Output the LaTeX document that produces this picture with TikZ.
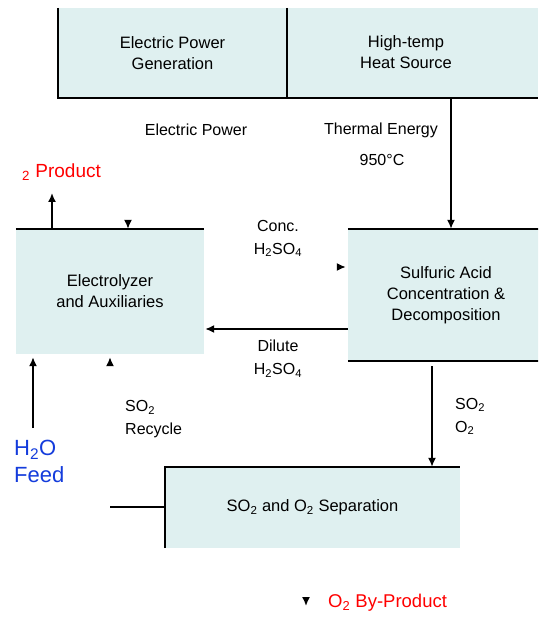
\documentclass[tikz,border=0pt]{standalone}
\usepackage{fontspec}
\setmainfont{Liberation Sans}
\usetikzlibrary{arrows.meta}
\definecolor{boxcyan}{RGB}{223,240,240}
\definecolor{redtxt}{RGB}{255,0,0}
\definecolor{bluetxt}{RGB}{20,60,220}
\begin{document}
\begin{tikzpicture}[x=1pt,y=-1pt,
  boxfill/.style={fill=boxcyan, draw=none, inner sep=0pt, align=center, font=\fontsize{16.5}{21}\selectfont},
  boxtext/.style={inner sep=0pt, align=center, font=\fontsize{16.5}{21}\selectfont},
  lbl/.style={inner sep=0pt, align=center, font=\fontsize{16}{23}\selectfont},
  edge/.style={line width=1.6pt},
  arr/.style={line width=1.6pt, -{Latex[length=9pt,width=8pt]}},
  ghost/.style={draw=white, line width=1.6pt, -{Latex[length=9pt,width=8pt,color=black]}},
]
\fill[white] (0,0) rectangle (538,620);
\clip (0,0) rectangle (538,620);

% boxes
\node[boxfill, minimum width=229, minimum height=90] (gen) at (172.5,53) {Electric Power\\Generation};
\node[boxfill, minimum width=251, minimum height=90] (heat) at (412.5,53) {};
\node[boxtext] (heattxt) at (406,52) {High-temp\\Heat Source};
\node[boxfill, minimum width=188, minimum height=125] (elec) at (110,291.5) {Electrolyzer\\and Auxiliaries};
\node[boxfill, minimum width=196, minimum height=132] (sulf) at (446,295) {Sulfuric Acid\\Concentration \&\\Decomposition};
\node[boxfill, minimum width=295, minimum height=81] (sep) at (312.5,507.5) {SO\textsubscript{2} and O\textsubscript{2} Separation};

% connectors whose lines are not visible (only their tips)
\coordinate (ex) at (128,0);
\draw[ghost] (gen.south -| ex) -- (elec.north -| ex);
\coordinate (cy) at (0,267);
\draw[ghost] (elec.east |- cy) -- ([xshift=-2pt]sulf.west |- cy);
\coordinate (rc) at (110,507);
\draw[ghost] (rc) -- ([yshift=-3pt]elec.south -| rc);
\coordinate (ob) at (306,606);
\draw[ghost] (sep.south -| ob) -- (ob);

% box borders
\draw[edge] (gen.north west) -- (gen.south west) -- (heat.south east);
\draw[edge] (gen.north east) -- (gen.south east);
\draw[edge] (elec.north west) -- (elec.north east);
\draw[edge] (sulf.north west) -- (sulf.north east);
\draw[edge] (sulf.south west) -- (sulf.south east);
\draw[edge] (sep.south west) -- (sep.north west) -- (sep.north east);

% visible connectors
\coordinate (tx) at (451,0);
\draw[arr] (heat.south -| tx) -- (sulf.north -| tx);
\coordinate (h2top) at (52,193);
\draw[arr] (elec.north -| h2top) -- (h2top);
\coordinate (dy) at (0,329);
\draw[arr] (sulf.west |- dy) -- ([xshift=1pt]elec.east |- dy);
\coordinate (sx) at (432,0);
\draw[arr] ([yshift=-5pt]sulf.south -| sx) -- (sep.north -| sx);
\draw[edge] (sep.west |- rc) -- (rc);
\coordinate (wf) at (33,428);
\draw[arr] (wf) -- ([yshift=-3pt]elec.south -| wf);

% labels
\node[lbl] (elp) at (196,130) {Electric Power};
\node[lbl] (te) at (381,130) {Thermal Energy};
\node[lbl] (tc) at (382,160) {950°C};
\node[anchor=west, text=redtxt, font=\fontsize{19}{23}\selectfont, inner sep=0pt] (h2p) at (22,172) {\textsubscript{2} Product};
\node[lbl] (conc) at (278,238.5) {Conc.\\H\textsubscript{2}SO\textsubscript{4}};
\node[lbl] (dil) at (278,358.5) {Dilute\\H\textsubscript{2}SO\textsubscript{4}};
\node[lbl, align=left, anchor=west] (rec) at (125,419) {SO\textsubscript{2}\\Recycle};
\node[lbl, align=left, anchor=west] (so) at (455,416.5) {SO\textsubscript{2}\\O\textsubscript{2}};
\node[anchor=west, align=left, text=bluetxt, font=\fontsize{22}{27}\selectfont, inner sep=0pt] (feed) at (14,461.5) {H\textsubscript{2}O\\Feed};
\node[anchor=west, text=redtxt, font=\fontsize{18.5}{22}\selectfont, inner sep=0pt] (o2p) at (328,603) {O\textsubscript{2} By-Product};
\end{tikzpicture}
\end{document}
